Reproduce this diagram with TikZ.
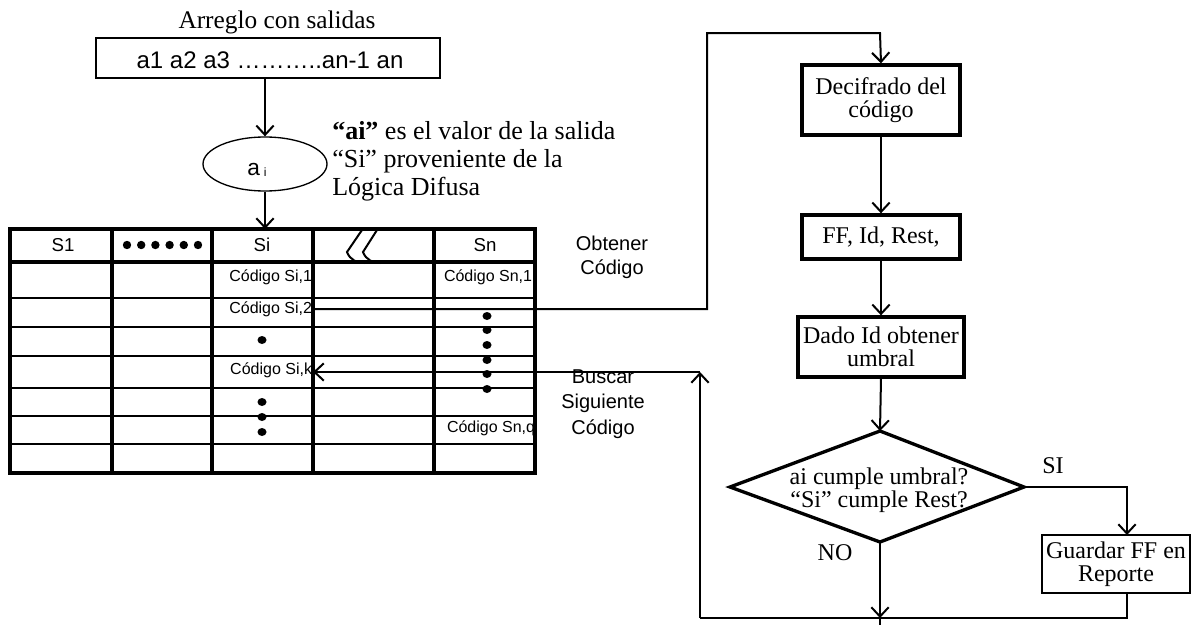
\documentclass[tikz,border=0pt]{standalone}
\usepackage{fontspec}
\setmainfont{Liberation Serif}
\setsansfont{Liberation Sans}
\usetikzlibrary{arrows.meta,shapes.geometric}
\tikzset{
  arr/.style={line width=1.5pt,-{Straight Barb[length=7pt,width=13pt,line width=1.5pt]}},
  conn/.style={line width=1.5pt},
  thickbox/.style={draw,line width=2.5pt,align=center,font=\fontsize{18}{17}\selectfont,inner sep=0pt},
  thinbox/.style={draw,line width=1pt,align=center,font=\fontsize{18}{17}\selectfont,inner sep=0pt},
  notetxt/.style={anchor=base west,inner sep=0pt,font=\fontsize{19.5}{21}\selectfont},
  sanslbl/.style={font=\sffamily\fontsize{15}{18}\selectfont,align=center},
  cell/.style={font=\sffamily\fontsize{12}{13}\selectfont,inner sep=0.5pt},
  hdr/.style={font=\sffamily\fontsize{14}{15}\selectfont},
  tdot/.style={fill=black,draw=none},
  lbl/.style={font=\fontsize{18}{18}\selectfont}
}
\begin{document}
\begin{tikzpicture}[x=0.75pt,y=-0.75pt]
\useasboundingbox (0,0) rectangle (1193,625);
% top part
\node[font=\fontsize{19}{20}\selectfont,anchor=base] (title) at (277,28) {Arreglo con salidas};
\node[draw,line width=1pt,minimum width=344*0.75pt,minimum height=40*0.75pt,inner sep=0pt] (arrbox) at (268,58) {};
\node[font=\sffamily\fontsize{18}{18}\selectfont,anchor=base,inner sep=0pt] (arreglo) at (270,68) {a1 a2 a3 ………..an-1 an};
\coordinate (arrB) at (265,78);
\node[draw,ellipse,line width=1pt,minimum width=124*0.75pt,minimum height=54*0.75pt,inner sep=0pt] (ai) at (265,164) {};
\node[font=\sffamily\fontsize{17}{17}\selectfont,anchor=base,inner sep=0pt] (aitxt) at (257,175) {a\hspace{3pt}\raisebox{-1pt}{\fontsize{9}{9}\selectfont i}};
\node[notetxt] (n1) at (332,139) {\textbf{“ai”} es el valor de la salida};
\node[notetxt] (n2) at (332,167) {“Si” proveniente de la};
\node[notetxt] (n3) at (332,195) {Lógica Difusa};
\coordinate (tabtop) at (265,229);
\draw[arr] (arrB) -- (ai.north);
\draw[arr] (ai.south) -- (tabtop);
% table
\foreach \y in {298,327,356,388,416,444}{\draw[line width=1pt] (10,\y) -- (535,\y);}
\foreach \x in {112,212,313,434}{\draw[line width=2.5pt] (\x,229) -- (\x,473);}
\draw[line width=2.5pt] (10,262) -- (535,262);
\draw[line width=2.5pt] (10,229) rectangle (535,473);
\node[hdr] (h1) at (63,245) {S1};
\foreach \i in {0,...,5}{\fill[tdot] (127+\i*14.2,245) ellipse (4.2 and 4.2);}
\node[hdr] (h3) at (262,245) {Si};
\node[hdr] (h5) at (485,245) {Sn};
\draw[line width=1.5pt] (362,230) -- (347,252) .. controls (350,260) and (357,263) .. (365,263);
\draw[line width=1.5pt] (377,230) -- (363,252) .. controls (366,260) and (373,263) .. (381,263);
\draw[line width=3.5pt] (380,262) -- (402,262);
% cells
\node[cell,anchor=east] (si1) at (313,277) {Código Si,1};
\node[cell,anchor=east] (si2) at (313,309) {Código Si,2};
\node[cell,anchor=east] (sik) at (313,370) {Código Si,k};
\node[cell,anchor=east] (sn1) at (533,277) {Código Sn,1};
\node[cell,anchor=east] (snq) at (536,428) {Código Sn,q};
\fill[tdot] (262,340) ellipse (4.5 and 4);
\foreach \y in {402,417,432}{\fill[tdot] (262,\y) ellipse (4.5 and 4);}
\foreach \y in {316,330,345,360,374,389}{\fill[tdot] (487,\y) ellipse (4.5 and 4);}
% side labels
\node[sanslbl] (obt) at (612,257) {Obtener\\Código};
\node[sanslbl,font=\sffamily\fontsize{15}{19}\selectfont] (bus) at (603,404) {Buscar\\Siguiente\\Código};
% flowchart
\node[thickbox,minimum width=158*0.75pt,minimum height=70*0.75pt] (dec) at (881,100) {Decifrado del\\código};
\node[thickbox,minimum width=158*0.75pt,minimum height=44*0.75pt] (ff) at (881,237) {FF, Id, Rest,};
\node[thickbox,minimum width=166*0.75pt,minimum height=60*0.75pt] (dado) at (881,347) {Dado Id obtener\\umbral};
\coordinate (dT) at (880,431);
\coordinate (dL) at (730,487);
\coordinate (dR) at (1024,487);
\coordinate (dB) at (880,542);
\draw[line width=2.5pt,line join=miter] (dT) -- (dR) -- (dB) -- (dL) -- cycle;
\node[font=\fontsize{18}{15}\selectfont,align=center] (cond) at (879,490) {ai cumple umbral?\\“Si” cumple Rest?};
\node[lbl] (silbl) at (1053,466) {SI};
\node[lbl] (nolbl) at (835,553) {NO};
\node[thinbox,minimum width=148*0.75pt,minimum height=58*0.75pt] (guard) at (1116,564) {Guardar FF en\\Reporte};
\coordinate (bot) at (880,618);
\coordinate (botL) at (700,618);
\coordinate (ret) at (700,372);
\coordinate (gB) at (1127,618);
\coordinate (cS2) at (313,309);
\coordinate (cSk) at (313,372);
% connectors
\draw[arr] (cS2) -- (707,309) -- (707,33) -- (880,33) -- (dec.north);
\draw[arr] (dec.south) -- (ff.north);
\draw[arr] (ff.south) -- (dado.north);
\draw[arr] (dado.south) -- (dT);
\draw[arr] (dR) -- (1127,487) -- (1127,535);
\draw[arr] (dB) -- (bot);
\draw[conn] (bot) -- (880,625);
\draw[conn] (1127,593) -- (gB) -- (botL);
\draw[arr] (botL) -- (ret);
\draw[arr] (ret) -- (cSk);
\end{tikzpicture}
\end{document}
